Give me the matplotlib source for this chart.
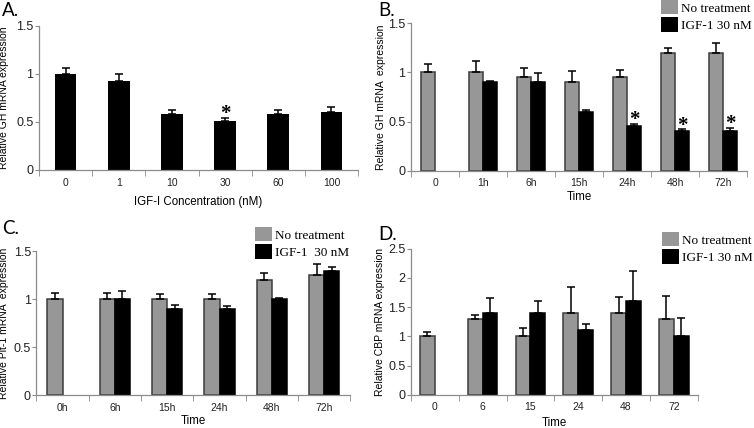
import numpy as np
import matplotlib
matplotlib.use("Agg")
import matplotlib.pyplot as plt
from matplotlib.patches import Patch

# panel A: dose response
a_labels = ["0", "1", "10", "30", "60", "100"]
a_vals = [1.0, 0.93, 0.58, 0.51, 0.58, 0.60]
a_err = [0.06, 0.075, 0.045, 0.035, 0.045, 0.055]
a_star = [3]

# panel B: GH time course
b_labels = ["0", "1h", "6h", "15h", "24h", "48h", "72h"]
b_ctrl = [1.0, 1.0, 0.95, 0.9, 0.95, 1.2, 1.2]
b_ctrl_err = [0.085, 0.115, 0.095, 0.11, 0.07, 0.045, 0.095]
b_igf = [np.nan, 0.9, 0.9, 0.6, 0.45, 0.4, 0.4]
b_igf_err = [np.nan, 0.01, 0.09, 0.02, 0.025, 0.02, 0.035]
b_star = [4, 5, 6]

# panel C: Pit-1
c_labels = ["0h", "6h", "15h", "24h", "48h", "72h"]
c_ctrl = [1.0, 1.0, 1.0, 1.0, 1.2, 1.25]
c_ctrl_err = [0.07, 0.07, 0.06, 0.06, 0.07, 0.12]
c_igf = [np.nan, 1.0, 0.9, 0.9, 1.0, 1.3]
c_igf_err = [np.nan, 0.09, 0.04, 0.03, 0.01, 0.035]

# panel D: CBP
d_labels = ["0", "6", "15", "24", "48", "72"]
d_ctrl = [1.0, 1.3, 1.0, 1.4, 1.4, 1.3]
d_ctrl_err = [0.07, 0.07, 0.15, 0.44, 0.27, 0.39]
d_igf = [np.nan, 1.4, 1.4, 1.1, 1.6, 1.0]
d_igf_err = [np.nan, 0.25, 0.2, 0.11, 0.51, 0.31]

SANS = "Liberation Sans"
SERIF = "Liberation Serif"
GRAY = "#979797"
EDGE = "#3c3c3c"
AXC = "#8c8c8c"

fig = plt.figure(figsize=(7.54, 4.28), dpi=100)


def style_axes(ax, n, ymax, ystep):
    ax.set_xlim(-0.5, n - 0.5)
    ax.set_ylim(0, ymax)
    for s in ["top", "right"]:
        ax.spines[s].set_visible(False)
    for s in ["left", "bottom"]:
        ax.spines[s].set_color(AXC)
        ax.spines[s].set_linewidth(0.9)
    yt = np.arange(0, ymax + 0.001, ystep)
    ax.set_yticks(yt)
    ax.set_yticklabels(["%g" % v for v in yt], fontsize=9, family=SANS, color="#222222")
    ax.tick_params(axis="y", direction="out", length=3, color=AXC, pad=1)
    ax.set_xticks(np.arange(n))
    ax.set_xticks(np.arange(-0.5, n, 1.0), minor=True)
    ax.tick_params(axis="x", which="major", length=0, pad=5.5)
    ax.tick_params(axis="x", which="minor", direction="out", length=4, color=AXC)


def grouped(ax, labels, ctrl, ctrl_err, igf, igf_err, w):
    x = np.arange(len(labels))
    ax.bar(x - w, ctrl, width=w, align="edge", color=GRAY, edgecolor=EDGE, linewidth=1.1, zorder=2)
    ax.bar(x, igf, width=w, align="edge", color="black", edgecolor="black", linewidth=1.1, zorder=2)
    ax.errorbar(x - w / 2, ctrl, yerr=[np.zeros(len(x)), ctrl_err], fmt="none",
                ecolor="black", elinewidth=1.1, capsize=3, capthick=1.1, zorder=3)
    ie = np.array(igf_err, dtype=float)
    ax.errorbar(x + w / 2, igf, yerr=[np.zeros(len(x)), ie], fmt="none",
                ecolor="black", elinewidth=1.1, capsize=3, capthick=1.1, zorder=3)
    ax.set_xticklabels(labels, fontsize=7.5, family=SANS, color="#222222")


def legend(ax, pos, second):
    hs = [Patch(facecolor=GRAY, edgecolor="none"), Patch(facecolor="black", edgecolor="none")]
    ax.legend(hs, ["No treatment", second], loc="upper left", bbox_to_anchor=pos,
              bbox_transform=fig.transFigure, frameon=False, borderpad=0, borderaxespad=0,
              handlelength=1.3, handleheight=1.3, handletextpad=0.25, labelspacing=0.2,
              prop={"family": SERIF, "size": 9.5})


def star(ax, x, top):
    ax.annotate("*", (x, top), xytext=(0, -1), textcoords="offset points",
                ha="center", va="baseline", fontsize=15, family=SERIF, fontweight="bold")


# A
axA = fig.add_axes([39 / 754, 1 - 170 / 428, 319 / 754, 144 / 428])
xa = np.arange(len(a_labels))
axA.bar(xa, a_vals, width=0.41, color="black", zorder=2)
axA.errorbar(xa, a_vals, yerr=[np.zeros(len(xa)), a_err], fmt="none", ecolor="black",
             elinewidth=1.1, capsize=3, capthick=1.1, zorder=3)
style_axes(axA, len(a_labels), 1.5, 0.5)
axA.set_xticklabels(a_labels, fontsize=7.5, family=SANS, color="#222222")
for i in a_star:
    star(axA, i, a_vals[i] + a_err[i])
axA.set_xlabel("IGF-I Concentration (nM)", fontsize=8.3, family=SANS)
axA.xaxis.set_label_coords(0.5, -0.18)
axA.set_ylabel("Relative GH mRNA expression", fontsize=7.5, family=SANS)
axA.yaxis.set_label_coords(-0.094, 0.5)

# B
axB = fig.add_axes([411 / 754, 1 - 170.7 / 428, 336 / 754, 147.5 / 428])
grouped(axB, b_labels, b_ctrl, b_ctrl_err, b_igf, b_igf_err, 0.29)
style_axes(axB, len(b_labels), 1.5, 0.5)
for i in b_star:
    star(axB, i + 0.145, b_igf[i] + b_igf_err[i])
axB.set_xlabel("Time", fontsize=8.3, family=SANS)
axB.xaxis.set_label_coords(0.5, -0.138)
axB.set_ylabel("Relative GH mRNA  expression", fontsize=7.5, family=SANS)
axB.yaxis.set_label_coords(-0.074, 0.5)
legend(axB, (661 / 754, 1.0), "IGF-1 30 nM")

# C
axC = fig.add_axes([36.4 / 754, 1 - 395.3 / 428, 314 / 754, 144 / 428])
grouped(axC, c_labels, c_ctrl, c_ctrl_err, c_igf, c_igf_err, 0.29)
style_axes(axC, len(c_labels), 1.5, 0.5)
axC.set_xlabel("Time", fontsize=8.3, family=SANS)
axC.xaxis.set_label_coords(0.5, -0.137)
axC.set_ylabel("Relative Pit-1 mRNA  expression", fontsize=7.5, family=SANS)
axC.yaxis.set_label_coords(-0.087, 0.5)
legend(axC, (255 / 754, 1 - 227 / 428), "IGF-1  30 nM")

# D
axD = fig.add_axes([411 / 754, 1 - 394.7 / 428, 286.7 / 754, 146 / 428])
grouped(axD, d_labels, d_ctrl, d_ctrl_err, d_igf, d_igf_err, 0.31)
style_axes(axD, len(d_labels), 2.5, 0.5)
axD.set_xlabel("Time", fontsize=8.3, family=SANS)
axD.xaxis.set_label_coords(0.5, -0.153)
axD.set_ylabel("Relative CBP mRNA expression", fontsize=7.5, family=SANS)
axD.yaxis.set_label_coords(-0.091, 0.5)
legend(axD, (662 / 754, 1 - 232 / 428), "IGF-1 30 nM")

# panel letters
for lab, x, y in [("A.", 2, 2), ("B.", 378, 2), ("C.", 2, 220), ("D.", 378, 226)]:
    fig.text(x / 754, 1 - y / 428, lab, ha="left", va="top", fontsize=13.5, family="Lato")

fig.savefig("out.png", dpi=100)
